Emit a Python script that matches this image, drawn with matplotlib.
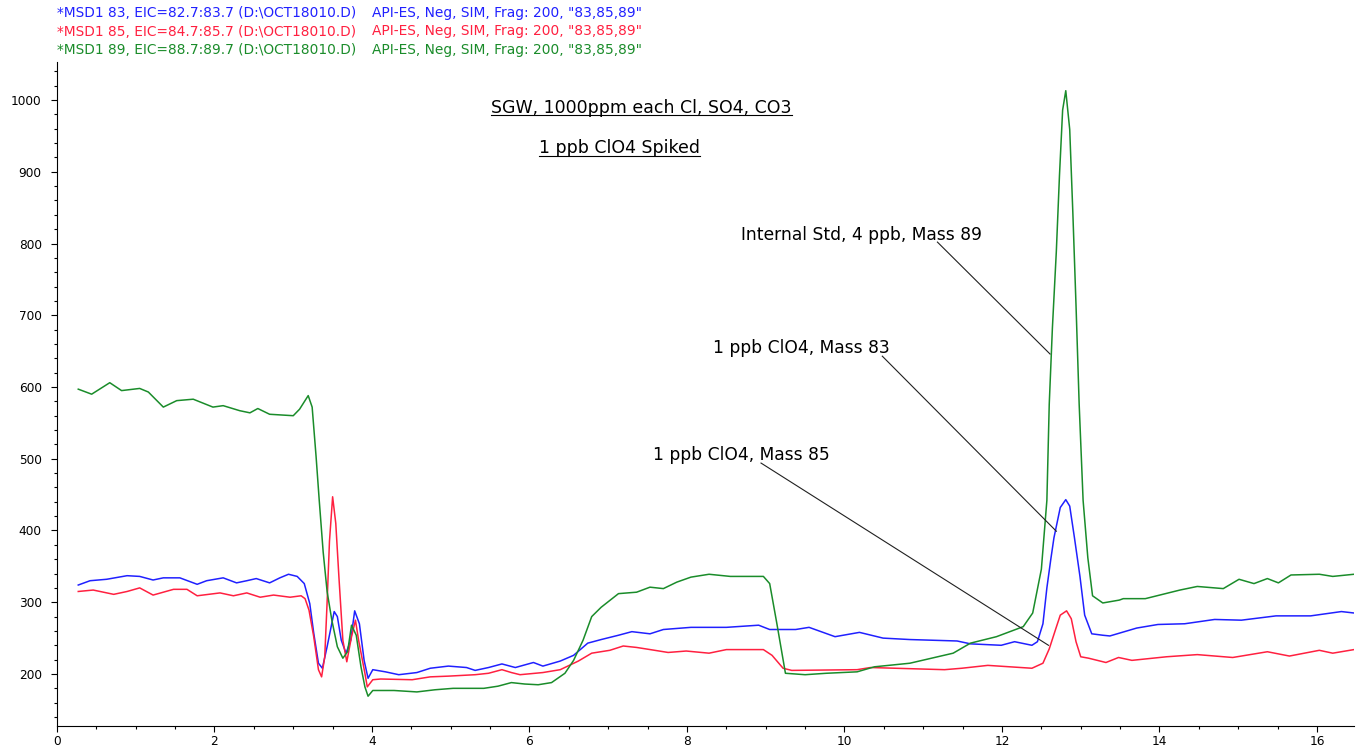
"""
Extracted ion chromatogram (SIM, masses 83/85/89) for a spiked SGW sample.
Run:  python plot.py   -> writes out.png
"""

import matplotlib
matplotlib.use("Agg")
import matplotlib.pyplot as plt
from matplotlib.lines import Line2D
from matplotlib.ticker import MultipleLocator

# ── trace data (retention time in min, abundance) ─────────────
T83 = [0.27, 0.42, 0.63, 0.89, 1.05, 1.22, 1.35, 1.56, 1.78, 1.90, 2.11, 2.28,
       2.41, 2.53, 2.70, 2.83, 2.94, 3.05, 3.14, 3.21, 3.26, 3.32, 3.37, 3.43,
       3.52, 3.56, 3.61, 3.67, 3.73, 3.78, 3.84, 3.90, 3.95, 4.01, 4.17, 4.34,
       4.57, 4.74, 4.97, 5.20, 5.31, 5.48, 5.65, 5.82, 6.05, 6.17, 6.39, 6.56,
       6.74, 6.91, 7.13, 7.30, 7.53, 7.70, 8.05, 8.50, 8.91, 9.05, 9.38, 9.55,
       9.88, 10.19, 10.49, 10.83, 11.43, 11.60, 11.99, 12.16, 12.38, 12.45,
       12.52, 12.57, 12.62, 12.66, 12.74, 12.81, 12.86, 12.92, 12.99, 13.05,
       13.14, 13.28, 13.37, 13.71, 13.98, 14.32, 14.70, 15.04, 15.48, 15.92,
       16.31, 16.47]
Y83 = [324, 330, 332, 337, 336, 331, 334, 334, 325, 330, 334, 327,
       330, 333, 327, 334, 339, 336, 326, 298, 257, 215, 208, 238,
       287, 280, 247, 229, 247, 288, 270, 219, 194, 206, 203, 199,
       202, 208, 211, 209, 205, 209, 214, 209, 216, 211, 218, 226,
       243, 248, 254, 259, 256, 262, 265, 265, 268, 262, 262, 265,
       252, 258, 250, 248, 246, 242, 240, 245, 240, 245,
       270, 320, 360, 390, 432, 443, 434, 390, 336, 282,
       256, 254, 253, 264, 269, 270, 276, 275, 281, 281,
       287, 285]

T85 = [0.27, 0.46, 0.72, 0.89, 1.05, 1.22, 1.48, 1.65, 1.78, 2.07, 2.24, 2.41,
       2.58, 2.75, 2.96, 3.10, 3.15, 3.20, 3.26, 3.32, 3.36, 3.40, 3.43, 3.46,
       3.50, 3.54, 3.58, 3.63, 3.68, 3.74, 3.79, 3.83, 3.91, 3.94, 4.01, 4.11,
       4.51, 4.74, 4.97, 5.31, 5.48, 5.65, 5.77, 5.88, 6.17, 6.39, 6.62, 6.79,
       7.02, 7.19, 7.36, 7.59, 7.76, 7.99, 8.28, 8.50, 8.97, 9.08, 9.22, 9.33,
       10.16, 10.33, 11.27, 11.49, 11.82, 12.38, 12.52, 12.60, 12.68, 12.74,
       12.82, 12.88, 12.94, 13.00, 13.10, 13.32, 13.48, 13.65, 14.09, 14.48,
       14.93, 15.37, 15.65, 16.03, 16.20, 16.47]
Y85 = [315, 317, 311, 315, 320, 310, 318, 318, 309, 313, 309, 313,
       307, 310, 307, 309, 305, 289, 252, 206, 196, 224, 300, 385,
       447, 410, 335, 247, 217, 252, 275, 247, 201, 182, 192, 193,
       192, 196, 197, 199, 201, 206, 202, 199, 202, 206, 218, 229,
       233, 239, 237, 233, 230, 232, 229, 234, 234, 226, 208, 205,
       206, 209, 206, 208, 212, 208, 215, 235, 262, 282,
       288, 277, 245, 224, 222, 216, 223, 219, 224, 227,
       223, 231, 225, 233, 229, 234]

T89 = [0.27, 0.44, 0.67, 0.82, 1.05, 1.16, 1.35, 1.52, 1.73, 1.98, 2.11, 2.32,
       2.45, 2.55, 2.70, 3.00, 3.08, 3.19, 3.24, 3.29, 3.33, 3.38, 3.43, 3.49,
       3.56, 3.63, 3.69, 3.74, 3.80, 3.86, 3.91, 3.95, 4.01, 4.28, 4.57, 4.80,
       5.03, 5.42, 5.60, 5.77, 5.94, 6.11, 6.28, 6.45, 6.56, 6.68, 6.79, 6.91,
       7.13, 7.36, 7.53, 7.70, 7.87, 8.05, 8.28, 8.55, 8.97, 9.05, 9.14, 9.25,
       9.50, 9.77, 10.16, 10.38, 10.83, 11.38, 11.60, 11.93, 12.27, 12.39,
       12.50, 12.57, 12.60, 12.64, 12.69, 12.73, 12.77, 12.81, 12.86, 12.90,
       12.94, 12.98, 13.03, 13.09, 13.15, 13.28, 13.49, 13.54, 13.82, 14.26,
       14.48, 14.81, 15.01, 15.20, 15.37, 15.51, 15.67, 16.03, 16.20, 16.47]
Y89 = [597, 590, 606, 595, 598, 593, 572, 581, 583, 572, 574, 567,
       564, 570, 562, 560, 569, 588, 572, 503, 442, 370, 315, 275,
       238, 222, 231, 268, 254, 210, 182, 169, 177, 177, 175, 178,
       180, 180, 183, 188, 186, 185, 188, 201, 219, 247, 280, 293,
       312, 314, 321, 319, 328, 335, 339, 336, 336, 326, 271, 201,
       199, 201, 203, 210, 215, 229, 243, 252, 266, 285,
       346, 442, 576, 682, 789, 895, 986, 1013, 959, 842,
       714, 576, 442, 362, 309, 299, 303, 305, 305, 317,
       322, 319, 332, 326, 333, 327, 338, 339, 336, 339]

HEADER_LEFT = [
    r"*MSD1 83, EIC=82.7:83.7 (D:\OCT18010.D)",
    r"*MSD1 85, EIC=84.7:85.7 (D:\OCT18010.D)",
    r"*MSD1 89, EIC=88.7:89.7 (D:\OCT18010.D)",
]
HEADER_RIGHT = 'API-ES, Neg, SIM, Frag: 200, "83,85,89"'

TITLE_1 = "SGW, 1000ppm each Cl, SO4, CO3"
TITLE_2 = "1 ppb ClO4 Spiked"

ANNOTATIONS = [
    # text, text anchor (x, y), leader start, leader end
    ("Internal Std, 4 ppb, Mass 89", (8.69, 812), (11.18, 802), (12.61, 646)),
    ("1 ppb ClO4, Mass 83",          (8.33, 654), (10.48, 643), (12.69, 399)),
    ("1 ppb ClO4, Mass 85",          (7.57, 505), (8.94, 494),  (12.59, 240)),
]

BLUE  = "#2020ff"
RED   = "#ff2040"
GREEN = "#1a8c2a"

W_PX, H_PX = 1364, 753


def underline(fig, ax, txt, x, y, offset_px=2.5):
    """Draw a line just under a baseline-anchored text."""
    fig.canvas.draw()
    bb = txt.get_window_extent()
    yb = ax.transData.transform((x, y))[1] - offset_px
    fig.add_artist(Line2D([bb.x0 / W_PX, bb.x1 / W_PX], [yb / H_PX, yb / H_PX],
                          transform=fig.transFigure, color="black", lw=0.8))


def plot():
    plt.rcParams.update({
        "font.family": "DejaVu Sans",
        "font.size":   8.7,
    })

    fig = plt.figure(figsize=(W_PX / 100, H_PX / 100), dpi=100, facecolor="white")
    ax = fig.add_axes([57 / W_PX, 27 / H_PX, 1297 / W_PX, 664 / H_PX])

    ax.plot(T83, Y83, color=BLUE,  lw=1.1)
    ax.plot(T85, Y85, color=RED,   lw=1.1)
    ax.plot(T89, Y89, color=GREEN, lw=1.1)

    ax.set_xlim(0, 16.47)
    ax.set_ylim(127.5, 1053)

    for side in ("top", "right"):
        ax.spines[side].set_visible(False)
    for side in ("left", "bottom"):
        ax.spines[side].set_linewidth(0.8)

    ax.xaxis.set_major_locator(MultipleLocator(2))
    ax.xaxis.set_minor_locator(MultipleLocator(0.5))
    ax.yaxis.set_major_locator(MultipleLocator(100))
    ax.yaxis.set_minor_locator(MultipleLocator(20))
    ax.set_yticks(range(200, 1001, 100))
    ax.tick_params(which="major", direction="out", length=4.5, width=0.8)
    ax.tick_params(which="minor", direction="out", length=2.3, width=0.8)
    ax.tick_params(axis="x", which="major", pad=2)
    ax.tick_params(axis="y", which="major", pad=6.5)

    # ── header lines ───────────────────────────────────────────
    for i, (left, col) in enumerate(zip(HEADER_LEFT, (BLUE, RED, GREEN))):
        yy = 1 - (13 + 18.5 * i) / H_PX
        fig.text(57 / W_PX, yy, left, color=col, fontsize=9.9, va="center")
        fig.text(372 / W_PX, yy, HEADER_RIGHT, color=col, fontsize=9.9, va="center")

    # ── underlined titles ──────────────────────────────────────
    t1 = ax.text(7.42, 982, TITLE_1, ha="center", va="baseline", fontsize=12.5)
    t2 = ax.text(7.14, 926, TITLE_2, ha="center", va="baseline", fontsize=12.5)

    # ── peak labels with leader lines ──────────────────────────
    for label, (tx, ty), (x0, y0), (x1, y1) in ANNOTATIONS:
        ax.text(tx, ty, label, ha="left", va="center", fontsize=12.3)
        ax.plot([x0, x1], [y0, y1], color="#202020", lw=0.8)

    underline(fig, ax, t1, 7.42, 982)
    underline(fig, ax, t2, 7.14, 926)

    fig.savefig("out.png", dpi=100, facecolor="white")


if __name__ == "__main__":
    plot()
